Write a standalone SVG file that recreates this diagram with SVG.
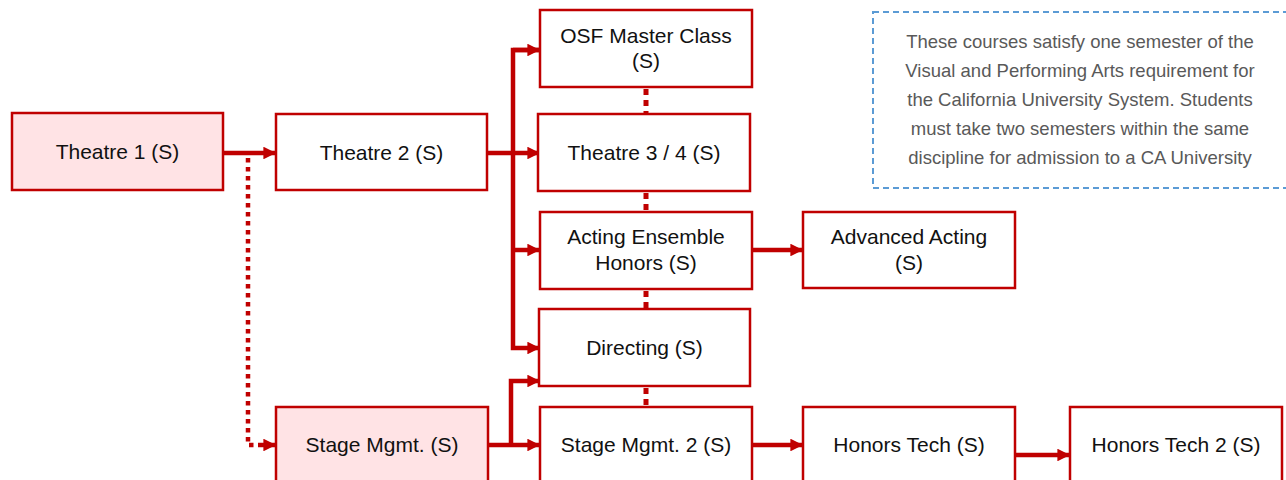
<svg xmlns="http://www.w3.org/2000/svg" width="1286" height="480" viewBox="0 0 1286 480">
<defs>
<style>
.box{fill:#fff;stroke:#C00000;stroke-width:2.5}
.pink{fill:#FFE3E5}
.t{font-family:"Liberation Sans",Arial,sans-serif;font-size:21px;fill:#111;text-anchor:middle}
.note{font-family:"Liberation Sans",Arial,sans-serif;font-size:18.5px;fill:#595959;text-anchor:middle}
.c{fill:none;stroke:#C00000;stroke-width:4.5}
.d{fill:none;stroke:#C00000;stroke-width:4.5;stroke-dasharray:4.5 4.5}
.v{fill:none;stroke:#C00000;stroke-width:5;stroke-dasharray:6 5}
</style>
<marker id="ah" viewBox="0 0 10 10" refX="10" refY="5" markerWidth="2.8" markerHeight="2.8" orient="auto" markerUnits="strokeWidth">
<path d="M0,0 L10,5 L0,10 Z" fill="#C00000"/>
</marker>
</defs>
<rect width="1286" height="480" fill="#fff"/>

<g id="connectors">
<path class="c" d="M223,153 H276" marker-end="url(#ah)"/>
<path class="d" d="M248,158 V445 H262"/>
<path class="c" d="M262,445 H276" marker-end="url(#ah)"/>
<path class="c" d="M487,153 H540" marker-end="url(#ah)"/>
<path class="c" d="M540,50 H513 V348 H540" marker-end="url(#ah)"/>
<path class="c" d="M513,50 H540" marker-end="url(#ah)"/>
<path class="c" d="M513,250 H540" marker-end="url(#ah)"/>
<path class="c" d="M488,445 H540" marker-end="url(#ah)"/>
<path class="c" d="M511,445 V381 H540" marker-end="url(#ah)"/>
<path class="c" d="M752,250 H803" marker-end="url(#ah)"/>
<path class="c" d="M752,445 H803" marker-end="url(#ah)"/>
<path class="c" d="M1015,455 H1070" marker-end="url(#ah)"/>
<path class="v" d="M646,89 V114"/>
<path class="v" d="M646,193 V212"/>
<path class="v" d="M646,291 V309"/>
<path class="v" d="M646,388 V406"/>
</g>

<g id="theatre1"><rect class="box pink" x="12" y="113" width="211" height="77"/><text class="t" x="117.5" y="159">Theatre 1 (S)</text></g>
<g id="theatre2"><rect class="box" x="276" y="114" width="211" height="76"/><text class="t" x="381.5" y="160">Theatre 2 (S)</text></g>
<g id="osf"><rect class="box" x="540" y="10" width="212" height="77"/><text class="t" x="646" y="43">OSF Master Class</text><text class="t" x="646" y="68">(S)</text></g>
<g id="theatre34"><rect class="box" x="538" y="114" width="212" height="77"/><text class="t" x="644" y="160">Theatre 3 / 4 (S)</text></g>
<g id="acting"><rect class="box" x="540" y="212" width="212" height="77"/><text class="t" x="646" y="244">Acting Ensemble</text><text class="t" x="646" y="270">Honors (S)</text></g>
<g id="directing"><rect class="box" x="539" y="309" width="211" height="77"/><text class="t" x="644.5" y="355">Directing (S)</text></g>
<g id="advanced"><rect class="box" x="803" y="212" width="212" height="76"/><text class="t" x="909" y="244">Advanced Acting</text><text class="t" x="909" y="270">(S)</text></g>
<g id="stagemgmt"><rect class="box pink" x="276" y="407" width="212" height="80"/><text class="t" x="382" y="452">Stage Mgmt. (S)</text></g>
<g id="stagemgmt2"><rect class="box" x="540" y="407" width="212" height="80"/><text class="t" x="646" y="452">Stage Mgmt. 2 (S)</text></g>
<g id="honorstech"><rect class="box" x="803" y="407" width="212" height="80"/><text class="t" x="909" y="452">Honors Tech (S)</text></g>
<g id="honorstech2"><rect class="box" x="1070" y="407" width="212" height="80"/><text class="t" x="1176" y="452">Honors Tech 2 (S)</text></g>

<g id="note">
<rect x="873" y="12" width="430" height="176" fill="#fff" stroke="#5B9BD5" stroke-width="2" stroke-dasharray="6 4"/>
<text class="note" x="1080" y="48">These courses satisfy one semester of the</text>
<text class="note" x="1080" y="77">Visual and Performing Arts requirement for</text>
<text class="note" x="1080" y="106">the California University System. Students</text>
<text class="note" x="1080" y="135">must take two semesters within the same</text>
<text class="note" x="1080" y="164">discipline for admission to a CA University</text>
</g>
</svg>
